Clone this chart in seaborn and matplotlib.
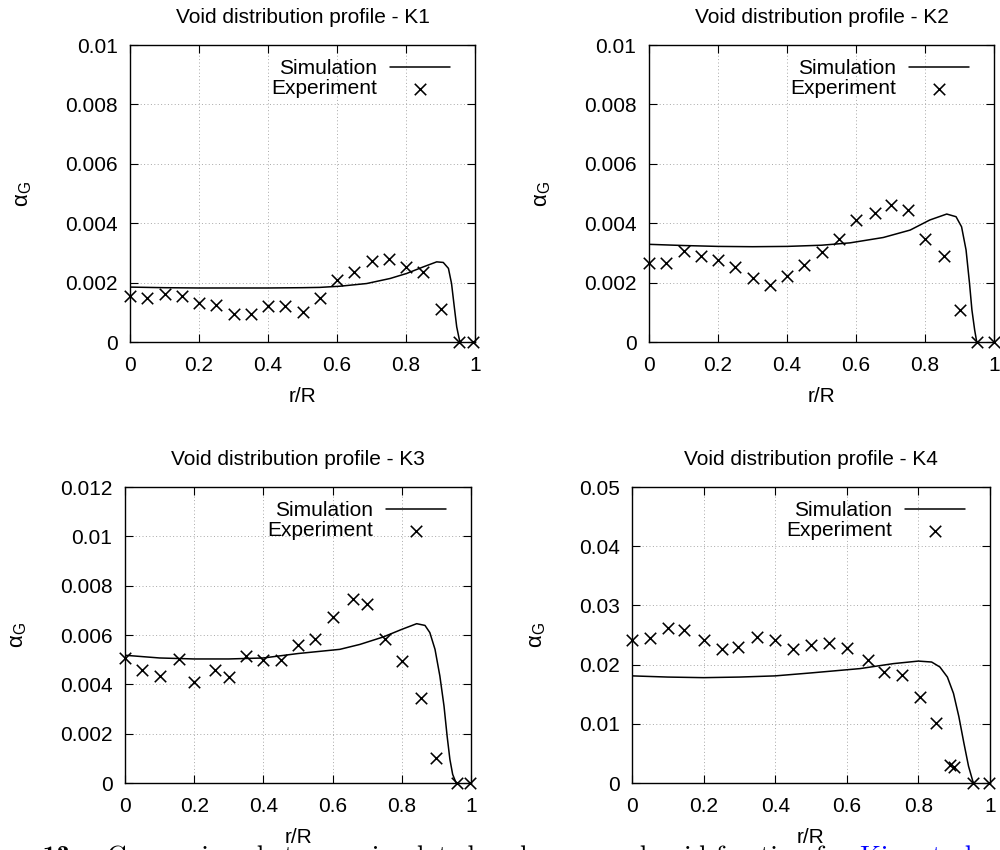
import matplotlib
matplotlib.use("Agg")
import matplotlib.pyplot as plt
from matplotlib.ticker import MultipleLocator, FuncFormatter
from matplotlib.transforms import offset_copy
import seaborn as sns
import pandas as pd

# ---- data ----
panel_names = ["K1", "K2", "K3", "K4"]
y_max = [0.01, 0.01, 0.012, 0.05]
y_step = [0.002, 0.002, 0.002, 0.01]

sim_r_k1 = [0, 0.1, 0.2, 0.3, 0.4, 0.5, 0.55, 0.609, 0.686, 0.754, 0.802, 0.85, 0.889, 0.908, 0.923, 0.932, 0.94, 0.947, 0.955, 0.96]
sim_a_k1 = [0.00185, 0.00183, 0.00182, 0.00182, 0.00182, 0.00183, 0.00184, 0.00188, 0.00197, 0.00214, 0.00231, 0.00253, 0.0027, 0.00268, 0.00248, 0.00197, 0.00118, 0.00051, 0.00006, 0]
exp_r_k1 = [0, 0.05, 0.1, 0.15, 0.2, 0.25, 0.3, 0.35, 0.4, 0.45, 0.5, 0.55, 0.6, 0.65, 0.7, 0.75, 0.8, 0.85, 0.9, 0.955, 0.995]
exp_a_k1 = [0.00155, 0.00148, 0.00163, 0.00156, 0.00131, 0.00126, 0.00096, 0.00096, 0.0012, 0.0012, 0.00101, 0.00148, 0.00208, 0.00236, 0.00273, 0.00281, 0.00253, 0.00236, 0.00112, 0, 0]

sim_r_k2 = [0, 0.1, 0.2, 0.3, 0.4, 0.5, 0.583, 0.679, 0.757, 0.814, 0.863, 0.89, 0.906, 0.919, 0.929, 0.936, 0.944, 0.95]
sim_a_k2 = [0.00329, 0.00325, 0.00322, 0.00321, 0.00322, 0.00326, 0.00334, 0.00352, 0.00377, 0.00411, 0.00431, 0.00422, 0.00388, 0.0031, 0.00198, 0.00108, 0.0004, 0]
exp_r_k2 = [0, 0.05, 0.1, 0.15, 0.2, 0.25, 0.3, 0.35, 0.4, 0.45, 0.5, 0.55, 0.6, 0.655, 0.7, 0.75, 0.8, 0.855, 0.9, 0.95, 1.0]
exp_a_k2 = [0.00266, 0.00266, 0.00307, 0.00289, 0.00275, 0.00253, 0.00216, 0.00191, 0.00222, 0.00258, 0.00303, 0.00348, 0.0041, 0.00433, 0.00461, 0.00444, 0.00348, 0.00289, 0.00109, 0, 0]

sim_r_k3 = [0, 0.1, 0.2, 0.3, 0.4, 0.5, 0.621, 0.679, 0.746, 0.8, 0.843, 0.867, 0.881, 0.896, 0.91, 0.922, 0.931, 0.939, 0.947, 0.957]
sim_a_k3 = [0.00518, 0.00507, 0.00503, 0.00503, 0.00507, 0.00525, 0.00542, 0.00562, 0.00592, 0.00623, 0.00646, 0.00639, 0.0061, 0.00542, 0.00434, 0.00312, 0.0019, 0.00096, 0.00035, 0]
exp_r_k3 = [0, 0.05, 0.1, 0.155, 0.2, 0.26, 0.3, 0.35, 0.4, 0.45, 0.5, 0.55, 0.6, 0.66, 0.7, 0.75, 0.8, 0.855, 0.9, 0.96, 0.997]
exp_a_k3 = [0.00507, 0.00457, 0.00432, 0.00503, 0.00409, 0.00457, 0.00428, 0.00514, 0.005, 0.005, 0.00561, 0.00582, 0.00673, 0.00747, 0.00727, 0.00582, 0.00493, 0.00344, 0.00102, 0, 0]

sim_r_k4 = [0, 0.1, 0.2, 0.3, 0.4, 0.5, 0.637, 0.73, 0.8, 0.837, 0.86, 0.881, 0.898, 0.913, 0.927, 0.94, 0.952, 0.955]
sim_a_k4 = [0.0181, 0.0179, 0.0178, 0.0179, 0.0181, 0.0186, 0.01933, 0.02017, 0.0206, 0.02044, 0.0196, 0.0179, 0.01514, 0.01122, 0.00677, 0.00285, 0.0003, 0]
exp_r_k4 = [0, 0.05, 0.1, 0.145, 0.2, 0.25, 0.295, 0.35, 0.4, 0.45, 0.5, 0.55, 0.6, 0.66, 0.705, 0.755, 0.805, 0.85, 0.888, 0.9, 0.952, 0.998]
exp_a_k4 = [0.0241, 0.0245, 0.0262, 0.0258, 0.0241, 0.0227, 0.023, 0.0246, 0.0241, 0.0227, 0.0233, 0.0236, 0.0228, 0.0208, 0.0187, 0.0183, 0.0145, 0.0102, 0.003, 0.0027, 0, 0]

sims = [(sim_r_k1, sim_a_k1), (sim_r_k2, sim_a_k2), (sim_r_k3, sim_a_k3), (sim_r_k4, sim_a_k4)]
exps = [(exp_r_k1, exp_a_k1), (exp_r_k2, exp_a_k2), (exp_r_k3, exp_a_k3), (exp_r_k4, exp_a_k4)]

caption_main = "Comparison between simulated and measured void fraction for"
caption_num = "Figure 13."
caption_ref = "Kim et al."

# ---- style ----
sns.set_theme(style="ticks")
plt.rcParams["font.family"] = ["Liberation Sans", "DejaVu Sans"]
plt.rcParams["mathtext.fontset"] = "custom"
plt.rcParams["mathtext.rm"] = "Liberation Sans"
plt.rcParams["mathtext.it"] = "Liberation Sans:italic"
plt.rcParams["text.color"] = "black"
plt.rcParams["axes.labelcolor"] = "black"

fig = plt.figure(figsize=(10, 8.5), dpi=100)
# axes rectangles in figure fraction (picked from the reference layout)
rects = [
    [0.130, 0.5976, 0.345, 0.3494],
    [0.649, 0.5976, 0.345, 0.3494],
    [0.125, 0.0788, 0.346, 0.3482],
    [0.632, 0.0788, 0.358, 0.3482],
]

fmt = FuncFormatter(lambda v, p: f"{v:g}")

for i, name in enumerate(panel_names):
    ax = fig.add_axes(rects[i])
    sr, sa = sims[i]
    er, ea = exps[i]
    sim_df = pd.DataFrame({"r": sr, "a": sa})
    exp_df = pd.DataFrame({"r": er, "a": ea})

    sns.lineplot(data=sim_df, x="r", y="a", ax=ax, color="black", linewidth=1.1,
                 sort=False, estimator=None, label="Simulation")
    sns.scatterplot(data=exp_df, x="r", y="a", ax=ax, marker="x", color="black",
                    s=68, linewidth=1.15, label="Experiment", clip_on=False, zorder=3)

    ax.set_xlim(0, 1)
    ax.set_ylim(0, y_max[i])
    ax.xaxis.set_major_locator(MultipleLocator(0.2))
    ax.yaxis.set_major_locator(MultipleLocator(y_step[i]))
    ax.xaxis.set_major_formatter(fmt)
    ax.yaxis.set_major_formatter(fmt)

    ax.grid(True, color="#a8a8a8", linestyle=(0, (1, 2.5)), linewidth=0.7)
    ax.set_axisbelow(True)
    for sp in ax.spines.values():
        sp.set_color("black")
        sp.set_linewidth(1.0)
    ax.tick_params(direction="in", top=True, right=True, length=5.5, width=0.8,
                   color="black", labelsize=15, labelcolor="black")
    ax.tick_params(axis="x", pad=10)
    ax.tick_params(axis="y", pad=9)

    ax.set_title(f"Void distribution profile - {name}", fontsize=15, pad=16, color="black")
    ax.set_xlabel("r/R", fontsize=15, labelpad=9)
    ax.set_ylabel(r"α$_{\mathrm{G}}$", fontsize=16, labelpad=22)

    handles, labels = ax.get_legend_handles_labels()
    leg = ax.legend(handles, labels, loc="upper right", bbox_to_anchor=(1, 1),
                    bbox_transform=offset_copy(ax.transAxes, fig=fig, x=-25, y=-14, units="dots"),
                    frameon=False, markerfirst=False, handlelength=2.9, handletextpad=0.6,
                    labelspacing=0.05, borderpad=0, borderaxespad=0, fontsize=15)
    for t in leg.get_texts():
        t.set_color("black")

# caption of the page, cut by the bottom edge like in the reference
fs0 = 16
cap = fig.text(0.107, 0.0, caption_main, family="cmr10", fontsize=fs0, ha="left", va="baseline")
fig.canvas.draw()
w = cap.get_window_extent().width
fs = fs0 * 741 / w
px = fs * 100 / 72
base_y = -(0.694 * px - 5) / 850
cap.set_fontsize(fs)
cap.set_y(base_y)
fig.text(0.077, base_y, caption_num, family="cmb10", fontsize=fs, ha="right", va="baseline")
fig.text(0.860, base_y, caption_ref, family="cmr10", fontsize=fs, ha="left", va="baseline",
         color="#0000ff")

fig.savefig("out.png", dpi=100)
